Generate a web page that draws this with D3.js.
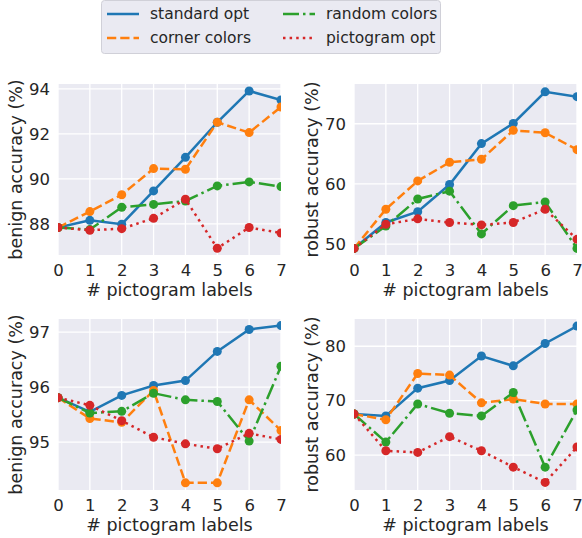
<!DOCTYPE html>
<html><head><meta charset="utf-8">
<script src="https://cdn.jsdelivr.net/npm/d3@7"></script>
<style>body{margin:0;background:#fff}svg{display:block}text{font-family:"DejaVu Sans",sans-serif;fill:#262626}</style>
</head><body><svg id="c" width="582" height="538"></svg>
<script>
const xs = [0,1,2,3,4,5,6,7];
const seriesNames = ["standard opt","corner colors","random colors","pictogram opt"];
const colors = ["#1f77b4","#ff7f0e","#2ca02c","#d62728"];
const dashes = [null,"9.25,4","16,4,2.5,4","2.5,4.1"];

const p1 = [[87.84,88.16,87.99,89.47,90.96,92.52,93.91,93.51],
            [87.84,88.55,89.30,90.46,90.43,92.52,92.06,93.20],
            [87.84,87.75,88.74,88.87,89.02,89.69,89.87,89.66],
            [87.84,87.72,87.79,88.25,89.10,86.92,87.84,87.60]];
const p2 = [[49.3,53.6,55.4,59.9,66.7,70.05,75.3,74.5],
            [49.3,55.8,60.5,63.6,64.1,68.9,68.5,65.7],
            [49.3,53.0,57.5,58.8,51.7,56.4,57.0,49.3],
            [49.3,53.3,54.2,53.6,53.2,53.6,55.8,50.8]];
const p3 = [[95.81,95.55,95.85,96.03,96.12,96.65,97.05,97.12],
            [95.81,95.43,95.36,95.94,94.26,94.26,95.77,95.21],
            [95.81,95.53,95.56,95.89,95.77,95.74,95.02,96.38],
            [95.81,95.67,95.39,95.09,94.97,94.88,95.16,95.05]];
const p4 = [[67.55,67.2,72.3,73.7,78.2,76.4,80.5,83.7],
            [67.55,66.5,75.0,74.7,69.6,70.3,69.4,69.4],
            [67.55,62.4,69.4,67.7,67.2,71.5,57.8,68.3],
            [67.55,60.8,60.5,63.4,60.8,57.8,55.0,61.5]];

const ticks1 = [88,90,92,94], ticks2 = [50,60,70], ticks3 = [95,96,97], ticks4 = [60,70,80];
const ylabels = ["benign accuracy (%)","robust accuracy (%)","benign accuracy (%)","robust accuracy (%)"];
const xlabel = "# pictogram labels";

const panels = [
  {data:p1, ticks:ticks1, dom:[86.62,94.22], x0:58, x1:281, y0:84, y1:255, yl:ylabels[0]},
  {data:p2, ticks:ticks2, dom:[48.2,76.6], x0:354, x1:577, y0:84, y1:255, yl:ylabels[1]},
  {data:p3, ticks:ticks3, dom:[94.13,97.24], x0:58, x1:281, y0:319, y1:490, yl:ylabels[2]},
  {data:p4, ticks:ticks4, dom:[53.6,85.0], x0:354, x1:577, y0:319, y1:490, yl:ylabels[3]}
];

const svg = d3.select("#c");
panels.forEach((p,i)=>{
  const x = d3.scaleLinear().domain([0,7]).range([p.x0,p.x1]);
  const y = d3.scaleLinear().domain(p.dom).range([p.y1,p.y0]);
  const g = svg.append("g");
  g.append("rect").attr("x",p.x0).attr("y",p.y0).attr("width",p.x1-p.x0).attr("height",p.y1-p.y0).attr("fill","#eaeaf2");
  const cid = "clip"+i;
  g.append("clipPath").attr("id",cid).append("rect").attr("x",p.x0).attr("y",p.y0).attr("width",p.x1-p.x0).attr("height",p.y1-p.y0);
  g.append("g").selectAll("line").data(xs).join("line")
    .attr("x1",d=>x(d)).attr("x2",d=>x(d)).attr("y1",p.y0).attr("y2",p.y1)
    .attr("stroke","#fff").attr("stroke-width",1.3);
  g.append("g").selectAll("line").data(p.ticks).join("line")
    .attr("y1",d=>y(d)).attr("y2",d=>y(d)).attr("x1",p.x0).attr("x2",p.x1)
    .attr("stroke","#fff").attr("stroke-width",1.3);
  const xa = g.append("g").attr("transform",`translate(0,${p.y1})`)
    .call(d3.axisBottom(x).tickValues(xs).tickFormat(d3.format("d")).tickSize(0).tickPadding(9));
  xa.select(".domain").remove();
  xa.selectAll("text").attr("font-size",16.5).attr("fill","#262626").attr("font-family","DejaVu Sans");
  const ya = g.append("g").attr("transform",`translate(${p.x0},0)`)
    .call(d3.axisLeft(y).tickValues(p.ticks).tickFormat(d3.format("d")).tickSize(0).tickPadding(8));
  ya.select(".domain").remove();
  ya.selectAll("text").attr("font-size",16.5).attr("fill","#262626").attr("font-family","DejaVu Sans");
  g.append("text").attr("x",(p.x0+p.x1)/2).attr("y",p.y1+41).attr("text-anchor","middle").attr("font-size",17.5).text(xlabel);
  g.append("text").attr("transform",`translate(${p.x0-36},${(p.y0+p.y1)/2}) rotate(-90)`).attr("text-anchor","middle").attr("font-size",17.5).text(p.yl);
  const line = d3.line().x((d,j)=>x(xs[j])).y(d=>y(d));
  const cg = g.append("g").attr("clip-path",`url(#${cid})`);
  p.data.forEach((s,k)=>{
    cg.append("path").attr("d",line(s)).attr("fill","none").attr("stroke",colors[k]).attr("stroke-width",2.5)
      .attr("stroke-dasharray",dashes[k]);
    cg.append("g").selectAll("circle").data(s).join("circle")
      .attr("cx",(d,j)=>x(xs[j])).attr("cy",d=>y(d)).attr("r",4.5).attr("fill",colors[k]);
  });
});

const lg = svg.append("g");
lg.append("rect").attr("x",101.5).attr("y",0.5).attr("width",339).attr("height",53).attr("rx",3)
  .attr("fill","#eaeaf2").attr("stroke","#d0d0d8").attr("stroke-width",1);
const lpos = [[107,14],[107,38],[283,14],[283,38]];
seriesNames.forEach((n,k)=>{
  const [lx,ly]=lpos[k];
  lg.append("line").attr("x1",lx).attr("x2",lx+32).attr("y1",ly).attr("y2",ly)
    .attr("stroke",colors[k]).attr("stroke-width",2.5).attr("stroke-dasharray",dashes[k]);
  lg.append("text").attr("x",lx+43).attr("y",ly).attr("dy","0.35em").attr("font-size",15.5).text(n);
});
</script></body></html>
